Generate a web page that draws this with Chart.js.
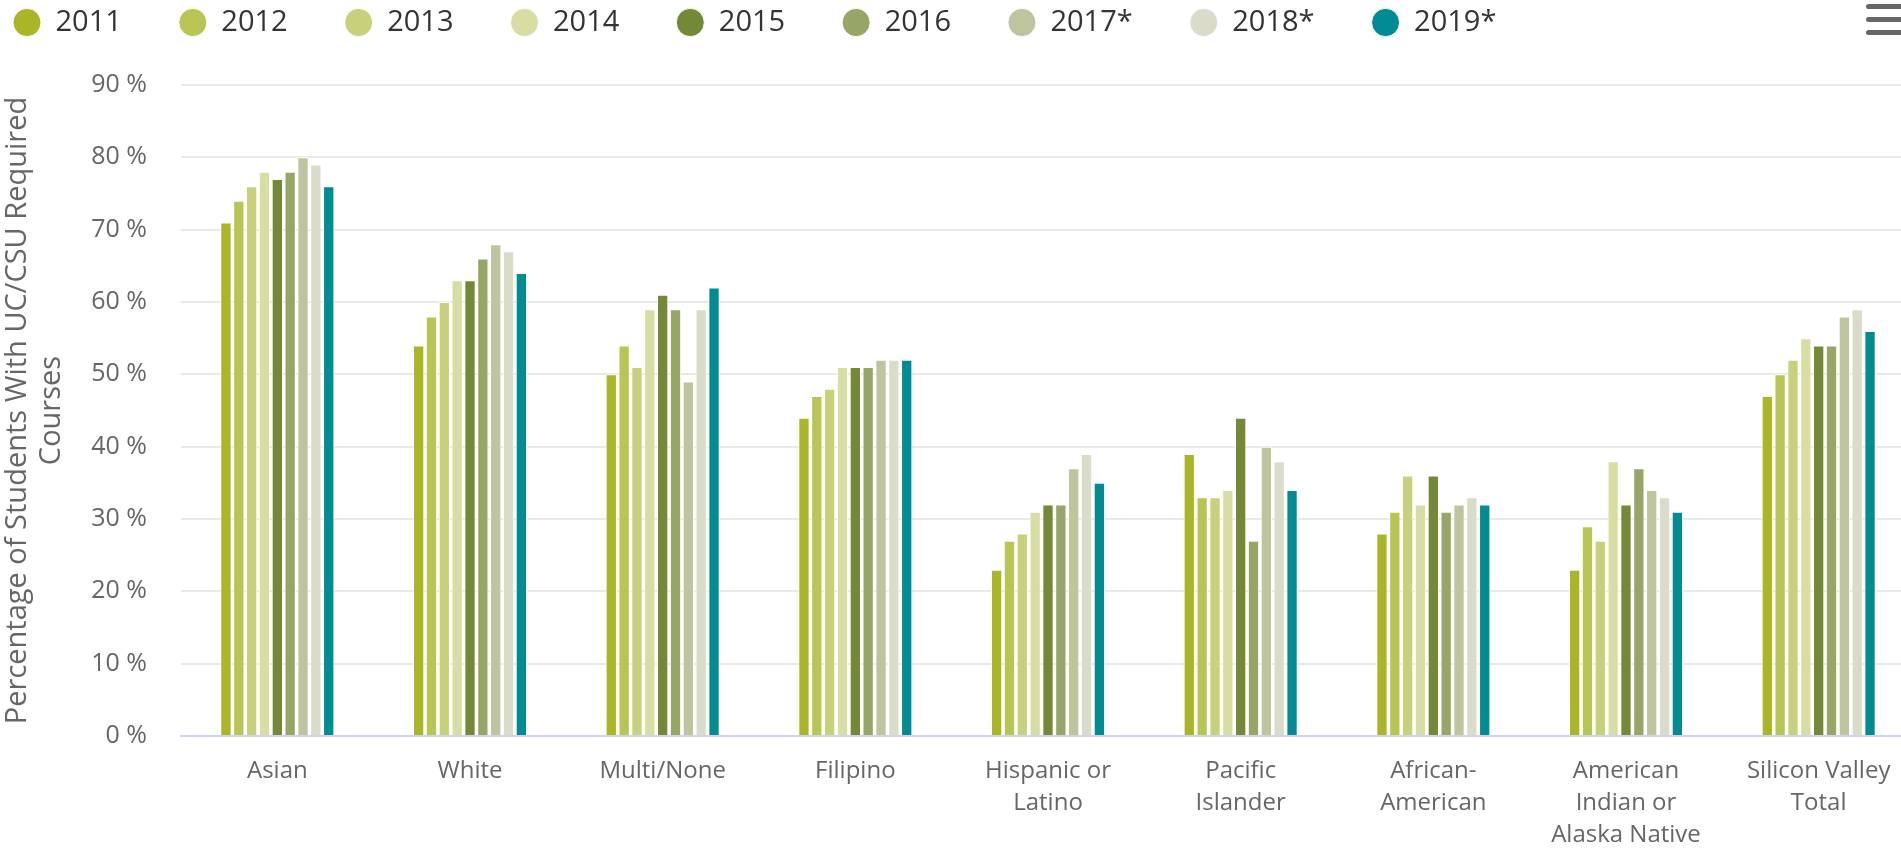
<!DOCTYPE html>
<html>
<head>
<meta charset="utf-8">
<title>UC/CSU required courses by ethnicity</title>
<script src="https://cdn.jsdelivr.net/npm/chart.js@4.4.1/dist/chart.umd.min.js"></script>
<style>
    html, body { margin: 0; padding: 0; background: #fff; overflow: hidden; }
    #wrap { position: absolute; left: 0; top: 0; width: 1920px; height: 849px; }
    .menu { position: absolute; left: 1866px; width: 40px; height: 5px; background: #666; border-radius: 3px; }
</style>
</head>
<body>
<div id="wrap"><canvas id="chart"></canvas></div>
<div class="menu" style="top:4px"></div>
<div class="menu" style="top:17px"></div>
<div class="menu" style="top:30px"></div>

<script>
    'use strict';

    const categories = [
        'Asian', 'White', 'Multi/None', 'Filipino',
        ['Hispanic or', 'Latino'], ['Pacific', 'Islander'], ['African-', 'American'],
        ['American', 'Indian or', 'Alaska Native'], ['Silicon Valley', 'Total']
    ];
    const years = ['2011', '2012', '2013', '2014', '2015', '2016', '2017*', '2018*', '2019*'];
    const colors = ['#aab527', '#b8c453', '#c8d07c', '#d8dea3', '#748938', '#97a567', '#bec49e', '#dadcc9', '#008c92'];

    // percent of students, one array per year, same order as categories
    const v2011 = [71, 54, 50, 44, 23, 39, 28, 23, 47];
    const v2012 = [74, 58, 54, 47, 27, 33, 31, 29, 50];
    const v2013 = [76, 60, 51, 48, 28, 33, 36, 27, 52];
    const v2014 = [78, 63, 59, 51, 31, 34, 32, 38, 55];
    const v2015 = [77, 63, 61, 51, 32, 44, 36, 32, 54];
    const v2016 = [78, 66, 59, 51, 32, 27, 31, 37, 54];
    const v2017 = [80, 68, 49, 52, 37, 40, 32, 34, 58];
    const v2018 = [79, 67, 59, 52, 39, 38, 33, 33, 59];
    const v2019 = [76, 64, 62, 52, 35, 34, 32, 31, 56];
    const values = [v2011, v2012, v2013, v2014, v2015, v2016, v2017, v2018, v2019];

    const yTicks = { min: 0, max: 90, step: 10 };

    // legend uses wide item spacing but must stay a single short row at the top
    const legendPlacement = {
        id: 'legendPlacement',
        beforeInit(chart) {
            const fit = chart.legend.fit;
            chart.legend.fit = function () {
                fit.call(this);
                this.height = 85;
            };
        },
        afterLayout(chart) {
            chart.legend.left -= 44;
            chart.legend.top -= 49;
        }
    };

    Chart.defaults.font.family = '"Open Sans", sans-serif';

    new Chart(document.getElementById('chart'), {
        type: 'bar',
        data: {
            labels: categories,
            datasets: years.map(function (year, i) {
                return {
                    label: year,
                    data: values[i],
                    backgroundColor: colors[i],
                    borderColor: '#ffffff',
                    borderWidth: 1,
                    categoryPercentage: 0.6,
                    barPercentage: 0.88
                };
            })
        },
        options: {
            responsive: true,
            maintainAspectRatio: false,
            animation: false,
            layout: {
                padding: { left: 0, right: 5, top: 0, bottom: 0 }
            },
            scales: {
                x: {
                    grid: { display: false, drawTicks: false },
                    border: { width: 2, color: '#ccd6eb' },
                    ticks: {
                        color: '#666666',
                        font: { size: 24, lineHeight: 1.33 },
                        padding: 19,
                        maxRotation: 0,
                        minRotation: 0,
                        autoSkip: false
                    },
                    afterFit: function (scale) {
                        scale.height = 113;
                    }
                },
                y: {
                    min: yTicks.min,
                    max: yTicks.max,
                    grid: { color: '#e9e9e9', lineWidth: 2, drawTicks: false },
                    border: { display: false },
                    ticks: {
                        stepSize: yTicks.step,
                        color: '#666666',
                        font: { size: 25 },
                        padding: 34,
                        callback: function (value) {
                            return value + ' %';
                        }
                    },
                    title: {
                        display: true,
                        text: ['Percentage of Students With UC/CSU Required', 'Courses'],
                        color: '#666666',
                        font: { size: 29, lineHeight: 1.2 },
                        padding: { top: 0, bottom: 0 }
                    },
                    afterFit: function (scale) {
                        scale.width = 181;
                    }
                }
            },
            plugins: {
                legend: {
                    position: 'top',
                    align: 'start',
                    labels: {
                        usePointStyle: true,
                        pointStyle: 'circle',
                        pointStyleWidth: 28,
                        boxHeight: 20,
                        padding: 57,
                        color: '#333333',
                        font: { size: 29 }
                    }
                },
                tooltip: { enabled: false }
            }
        },
        plugins: [legendPlacement]
    });
</script>
</body>
</html>
